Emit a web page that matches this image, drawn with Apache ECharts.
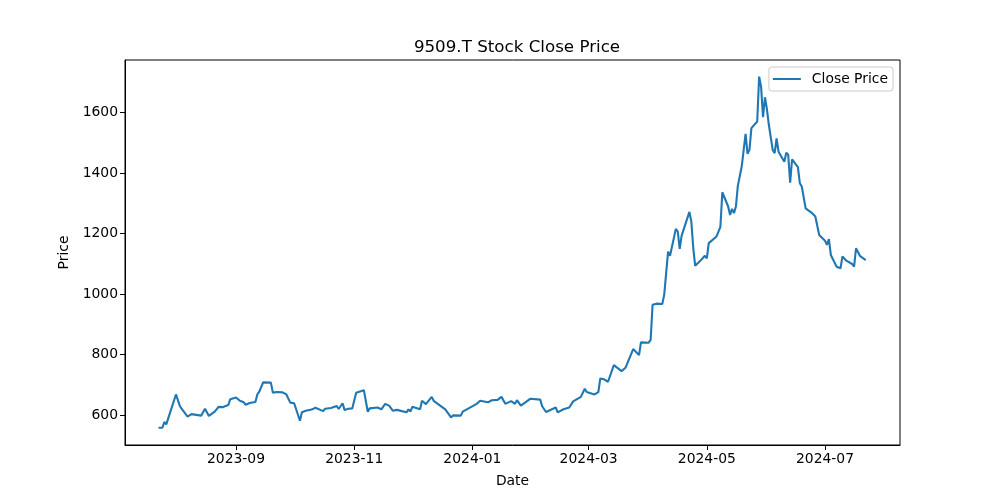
<!DOCTYPE html>
<html>
<head>
<meta charset="utf-8">
<script src="https://cdn.jsdelivr.net/npm/echarts@6/dist/echarts.min.js"></script>
<style>html,body{margin:0;padding:0;background:#fff}#c{width:1000px;height:500px}</style>
</head>
<body>
<div id="c"></div>
<script>
const dates = [
 '2023-07-23','2023-07-25','2023-07-26','2023-07-27','2023-08-01','2023-08-03','2023-08-04','2023-08-07','2023-08-09','2023-08-10',
 '2023-08-14','2023-08-16','2023-08-18','2023-08-21','2023-08-23','2023-08-25','2023-08-28','2023-08-29','2023-08-30','2023-09-01',
 '2023-09-03','2023-09-05','2023-09-06','2023-09-08','2023-09-11','2023-09-12','2023-09-13','2023-09-15','2023-09-19','2023-09-20',
 '2023-09-22','2023-09-25','2023-09-27','2023-09-29','2023-10-01','2023-10-04','2023-10-05','2023-10-07','2023-10-10','2023-10-12',
 '2023-10-13','2023-10-16','2023-10-17','2023-10-20','2023-10-23','2023-10-24','2023-10-26','2023-10-27','2023-10-29','2023-10-31',
 '2023-11-02','2023-11-06','2023-11-08','2023-11-09','2023-11-13','2023-11-15','2023-11-17','2023-11-19','2023-11-21','2023-11-23',
 '2023-11-28','2023-11-29','2023-11-30','2023-12-01','2023-12-05','2023-12-06','2023-12-08','2023-12-11','2023-12-12','2023-12-15',
 '2023-12-18','2023-12-21','2023-12-22','2023-12-26','2023-12-27','2024-01-03','2024-01-05','2024-01-09','2024-01-11','2024-01-14',
 '2024-01-16','2024-01-18','2024-01-21','2024-01-23','2024-01-24','2024-01-26','2024-01-31','2024-02-01','2024-02-05','2024-02-06',
 '2024-02-07','2024-02-08','2024-02-13','2024-02-14','2024-02-17','2024-02-20','2024-02-22','2024-02-26','2024-02-28','2024-02-29',
 '2024-03-04','2024-03-06','2024-03-07','2024-03-09','2024-03-11','2024-03-14','2024-03-18','2024-03-20','2024-03-24','2024-03-27',
 '2024-03-28','2024-04-01','2024-04-02','2024-04-03','2024-04-05','2024-04-08','2024-04-09','2024-04-11','2024-04-12','2024-04-15',
 '2024-04-16','2024-04-17','2024-04-18','2024-04-19','2024-04-22','2024-04-23','2024-04-24','2024-04-25','2024-04-28','2024-04-30',
 '2024-05-01','2024-05-02','2024-05-06','2024-05-08','2024-05-09','2024-05-12','2024-05-13','2024-05-14','2024-05-15','2024-05-16',
 '2024-05-17','2024-05-19','2024-05-21','2024-05-22','2024-05-23','2024-05-24','2024-05-27','2024-05-28','2024-05-29','2024-05-30',
 '2024-05-31','2024-06-01','2024-06-02','2024-06-04','2024-06-05','2024-06-06','2024-06-07','2024-06-10','2024-06-11','2024-06-12',
 '2024-06-13','2024-06-14','2024-06-17','2024-06-18','2024-06-19','2024-06-21','2024-06-24','2024-06-25','2024-06-26','2024-06-28',
 '2024-07-01','2024-07-02','2024-07-03','2024-07-04','2024-07-07','2024-07-09','2024-07-10','2024-07-12','2024-07-15','2024-07-16',
 '2024-07-17','2024-07-19','2024-07-22'
];
const closePrice = [
 558,558,577,569,668,630,620,595,603,598,
 598,621,597,611,627,626,633,652,647,658,
 647,642,634,640,643,668,677,708,707,674,
 676,675,668,641,639,581,609,614,618,624,
 619,613,621,623,630,620,639,617,621,622,
 674,682,611,622,625,619,637,631,614,617,
 609,619,611,627,619,647,636,660,647,633,
 619,592,599,598,611,636,647,642,649,650,
 660,637,646,637,649,631,654,655,651,629,
 625,610,625,609,619,625,645,660,687,676,
 668,676,721,718,710,765,745,756,818,798,
 840,839,848,964,968,967,997,1140,1126,1215,
 1206,1149,1193,1187,1271,1239,1151,1093,1112,1126,
 1118,1168,1190,1222,1336,1289,1261,1281,1267,1289,
 1357,1421,1529,1463,1476,1548,1570,1718,1685,1584,
 1650,1611,1559,1476,1465,1514,1470,1437,1467,1460,
 1368,1445,1419,1366,1355,1283,1269,1269,1256,1195,
 1176,1162,1181,1129,1090,1085,1124,1110,1099,1090,
 1151,1126,1112
];
const xTickLabels = ['2023-09','2023-11','2024-01','2024-03','2024-05','2024-07'];
const yTickValues = [600,800,1000,1200,1400,1600];

const DAY = 86400000;
const toTs = s => { const p = s.split('-').map(Number); return Date.UTC(p[0], p[1] - 1, p[2] || 1); };
const ref = toTs('2023-09-01');
const xTicks = xTickLabels.map(toTs);
const font = 'DejaVu Sans';

const chart = echarts.init(document.getElementById('c'), null, {renderer: 'canvas'});
chart.setOption({
  animation: false,
  backgroundColor: '#fff',
  title: {
    text: '9509.T Stock Close Price', left: 512, top: 34, textAlign: 'center',
    textStyle: {fontFamily: font, fontSize: 16.7, fontWeight: 'normal', color: '#000'}
  },
  legend: {
    right: 107, top: 67, orient: 'vertical',
    itemWidth: 28, itemHeight: 2, itemGap: 4,
    padding: [5, 5, 5, 4],
    backgroundColor: '#fff', borderColor: '#ccc', borderWidth: 1, borderRadius: 3,
    textStyle: {fontFamily: font, fontSize: 13.9, color: '#000', padding: [0, 0, 0, 6]},
    data: [{name: 'Close Price', icon: 'rect'}]
  },
  grid: {left: 125, right: 100, top: 60, bottom: 55, show: true, borderColor: '#000', borderWidth: 1, backgroundColor: 'transparent', outerBoundsMode: 'none'},
  xAxis: {
    type: 'value',
    min: ref - 57.3 * DAY, max: ref + 342.7 * DAY,
    name: 'Date', nameLocation: 'middle', nameGap: 29,
    nameTextStyle: {fontFamily: font, fontSize: 13.9, color: '#000'},
    axisLine: {show: true, onZero: false, lineStyle: {color: '#000', width: 1}},
    axisTick: {show: true, length: 5, inside: false, customValues: xTicks, lineStyle: {color: '#000'}},
    axisLabel: {
      customValues: xTicks, fontFamily: font, fontSize: 13.9, color: '#000', margin: 7,
      formatter: v => { const d = new Date(v); return d.getUTCFullYear() + '-' + String(d.getUTCMonth() + 1).padStart(2, '0'); }
    },
    splitLine: {show: false}
  },
  yAxis: {
    type: 'value', min: 501, max: 1773,
    name: 'Price', nameLocation: 'middle', nameGap: 46, nameRotate: 90,
    nameTextStyle: {fontFamily: font, fontSize: 13.9, color: '#000'},
    axisLine: {show: true, onZero: false, lineStyle: {color: '#000', width: 1}},
    axisTick: {show: true, length: 5, customValues: yTickValues, lineStyle: {color: '#000'}},
    axisLabel: {customValues: yTickValues, fontFamily: font, fontSize: 13.9, color: '#000', margin: 7, formatter: v => String(v)},
    splitLine: {show: false}
  },
  series: [{
    name: 'Close Price', type: 'line', showSymbol: false, symbol: 'none',
    data: dates.map((d, i) => [toTs(d), closePrice[i]]),
    lineStyle: {color: '#1f77b4', width: 2.1},
    itemStyle: {color: '#1f77b4'}
  }]
});
</script>
</body>
</html>
